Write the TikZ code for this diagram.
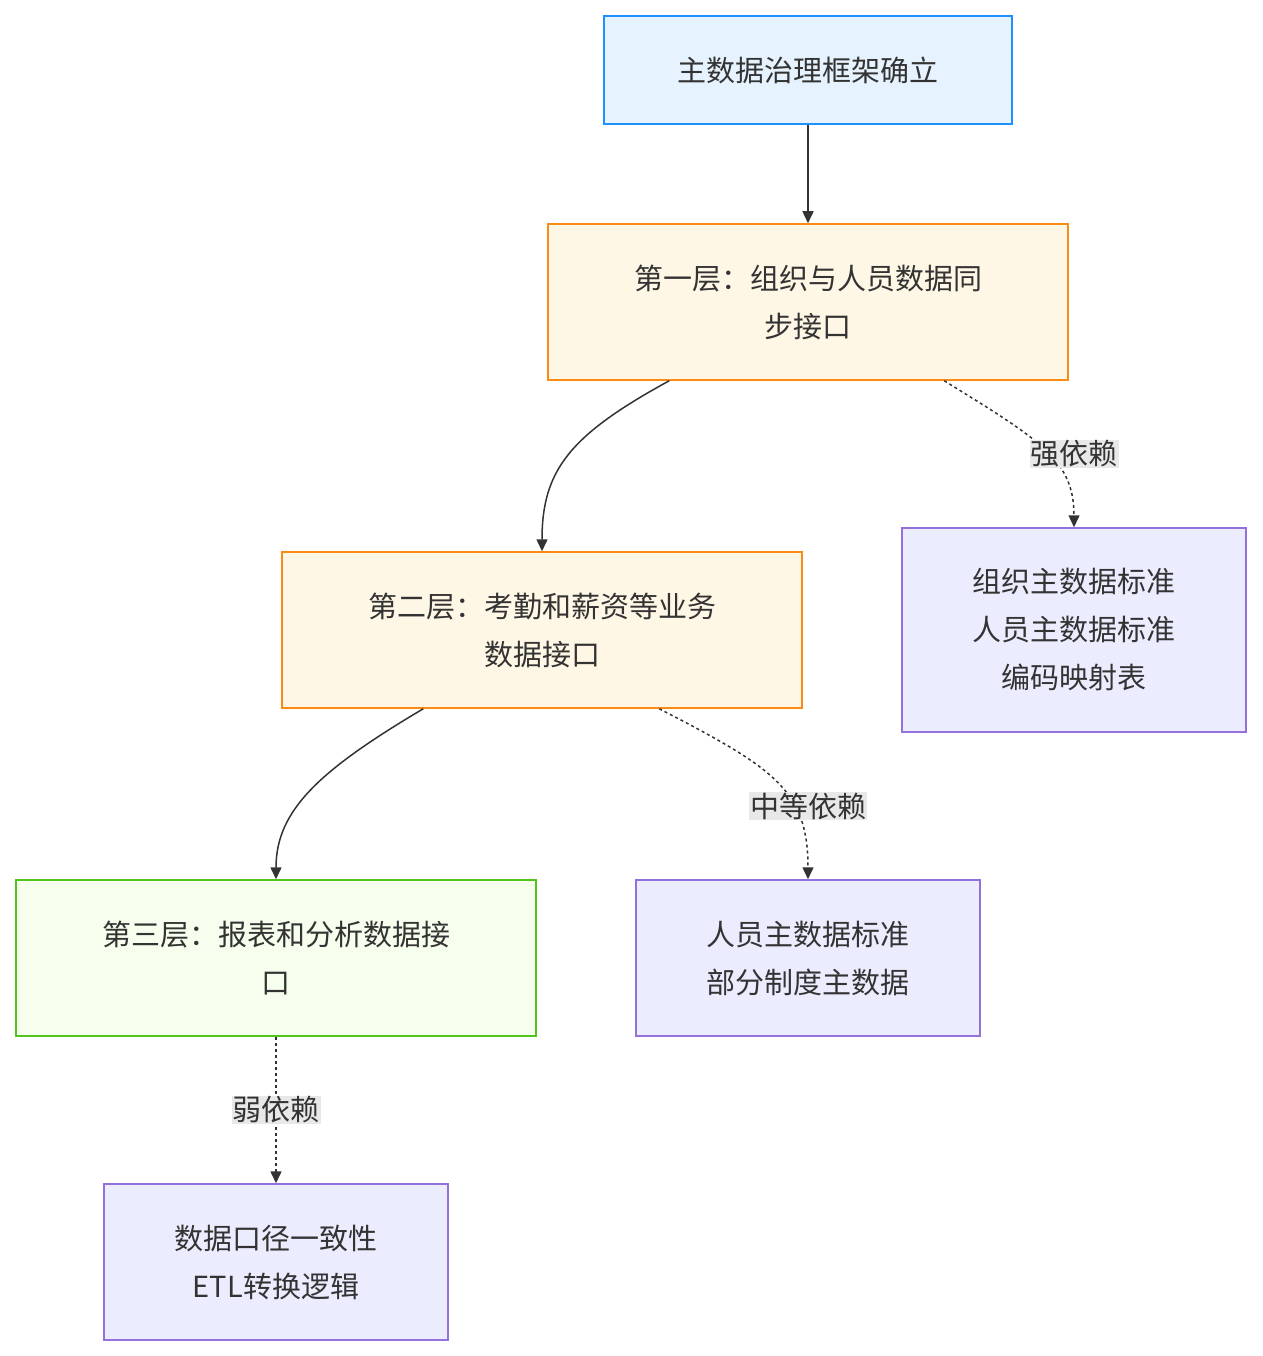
\documentclass[tikz,border=0pt]{standalone}
\usepackage{fontspec}
\setmainfont{Noto Sans CJK SC}
\usetikzlibrary{arrows.meta}
\definecolor{bluefill}{HTML}{E6F3FF}\definecolor{blueline}{HTML}{1E90FF}
\definecolor{orfill}{HTML}{FFF7E6}\definecolor{orline}{HTML}{FA8C16}
\definecolor{grfill}{HTML}{F6FFED}\definecolor{grline}{HTML}{52C41A}
\definecolor{pufill}{HTML}{ECECFF}\definecolor{puline}{HTML}{9370DB}
\definecolor{lbl}{HTML}{E8E8E8}\definecolor{txt}{HTML}{333333}
\tikzset{
 box/.style={draw, line width=1.5pt, rectangle, inner sep=0pt, align=center, text=txt, font=\fontsize{29}{48}\selectfont},
 bl/.style={box, fill=bluefill, draw=blueline},
 orb/.style={box, fill=orfill, draw=orline},
 grb/.style={box, fill=grfill, draw=grline},
 pub/.style={box, fill=pufill, draw=puline},
 arr/.style={draw=txt, line width=1.5pt, -{Triangle[length=12pt,width=11pt]}},
 dsh/.style={arr, dash pattern=on 3pt off 3pt},
 lab/.style={fill=lbl, text=txt, font=\fontsize{29}{34}\selectfont, inner sep=1pt}
}
\begin{document}
\begin{tikzpicture}[x=1pt,y=-1pt]
\useasboundingbox (0,0) rectangle (1262,1356);
\node[bl, minimum width=408pt, minimum height=108pt] (A) at (808,70) {主数据治理框架确立};
\node[orb, minimum width=520pt, minimum height=156pt] (B) at (808,302) {第一层：组织与人员数据同\\步接口};
\node[orb, minimum width=520pt, minimum height=156pt] (C) at (542,630) {第二层：考勤和薪资等业务\\数据接口};
\node[pub, minimum width=344pt, minimum height=204pt] (D) at (1074,630) {组织主数据标准\\人员主数据标准\\编码映射表};
\node[grb, minimum width=520pt, minimum height=156pt] (E) at (276,958) {第三层：报表和分析数据接\\口};
\node[pub, minimum width=344pt, minimum height=156pt] (F) at (808,958) {人员主数据标准\\部分制度主数据};
\node[pub, minimum width=344pt, minimum height=156pt] (G) at (276,1262) {数据口径一致性\\ETL转换逻辑};
\draw[arr] (A) -- (B);
\draw[arr] (B.south west)++(122,0) coordinate (b1) .. controls (570,435) and (542,470) .. (C.north);
\draw[arr] (C.south west)++(142,0) coordinate (c1) .. controls (320,770) and (276,810) .. (E.north);
\draw[dsh] (B.south west)++(397,0) coordinate (b2) .. controls (1040,440) and (1074,460) .. (D.north);
\draw[dsh] (C.south west)++(378,0) coordinate (c2) .. controls (774,768) and (808,790) .. (F.north);
\draw[dsh] (E) -- (G);
\node[lab] (L1) at (1074,454) {强依赖};
\node[lab] (L2) at (808,806) {中等依赖};
\node[lab] (L3) at (276,1110) {弱依赖};
\end{tikzpicture}
\end{document}
